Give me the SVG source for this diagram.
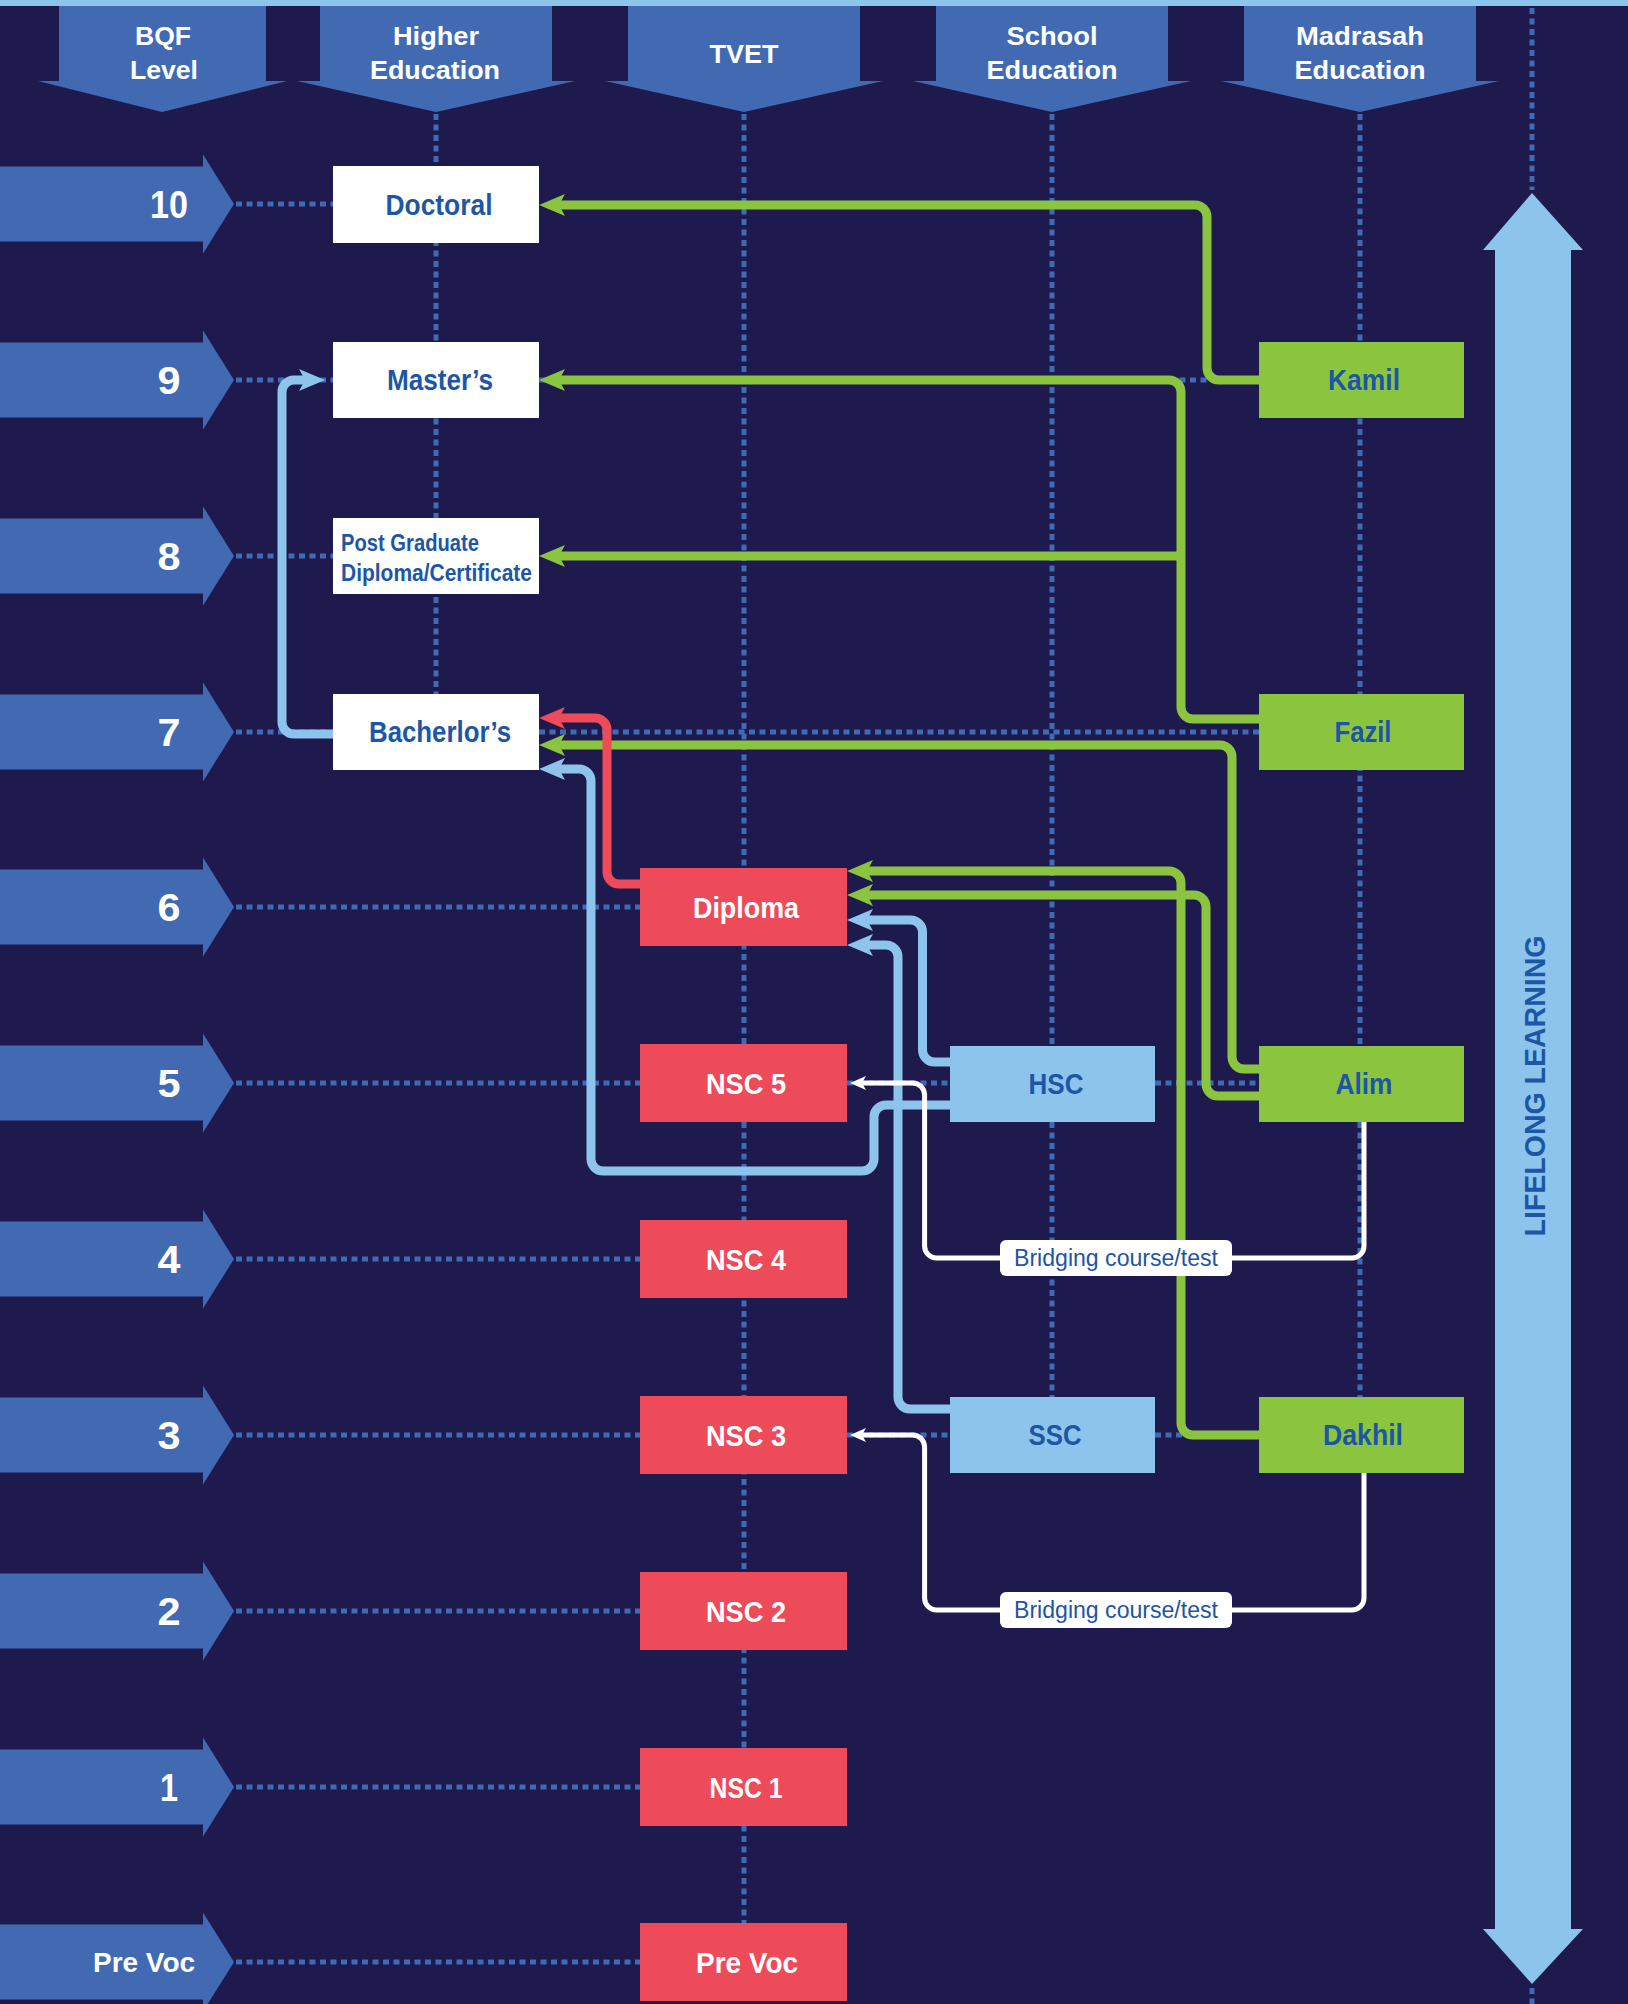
<svg xmlns="http://www.w3.org/2000/svg" width="1628" height="2004" viewBox="0 0 1628 2004">
<style>
.bg{fill:#1E1A4E}
.hdr{fill:#416AB3}
.lvl{fill:#416AB3}
.dot{stroke:#3F6AB4;stroke-width:5;stroke-dasharray:6 4.5;fill:none}
.ht{font-family:"Liberation Sans",Arial,sans-serif;font-weight:bold;font-size:26px;fill:#fff;text-anchor:middle}
.num{font-family:"Liberation Sans",Arial,sans-serif;font-weight:bold;font-size:38px;fill:#fff;text-anchor:middle}
.nt{font-family:"Liberation Sans",Arial,sans-serif;font-weight:bold;font-size:29px;text-anchor:middle}
.blue{fill:#1D56A6}
.wh{fill:#fff}
.wbox{fill:#fff}
.rbox{fill:#EE4B5A}
.sbox{fill:#8DC4EB}
.mbox{fill:#8BC43F}
.g{stroke:#8BC43F;stroke-width:9;fill:none;marker-end:url(#ag)}
.b{stroke:#8DC4EB;stroke-width:9;fill:none;marker-end:url(#ab)}
.r{stroke:#EE4B5A;stroke-width:9;fill:none;marker-end:url(#ar)}
.w{stroke:#fff;stroke-width:5;fill:none;marker-end:url(#aw)}
.lab{font-family:"Liberation Sans",Arial,sans-serif;font-size:23px;fill:#1D56A6;text-anchor:middle}
</style>
<defs>
<marker id="ag" markerUnits="userSpaceOnUse" markerWidth="30" markerHeight="26" viewBox="-28 -13 30 26" refX="-14" refY="0" orient="auto"><path d="M0,0 L-26,-11 L-20,0 L-26,11 Z" fill="#8BC43F"/></marker>
<marker id="ab" markerUnits="userSpaceOnUse" markerWidth="30" markerHeight="26" viewBox="-28 -13 30 26" refX="-14" refY="0" orient="auto"><path d="M0,0 L-26,-11 L-20,0 L-26,11 Z" fill="#8DC4EB"/></marker>
<marker id="ar" markerUnits="userSpaceOnUse" markerWidth="30" markerHeight="26" viewBox="-28 -13 30 26" refX="-14" refY="0" orient="auto"><path d="M0,0 L-26,-11 L-20,0 L-26,11 Z" fill="#EE4B5A"/></marker>
<marker id="aw" markerUnits="userSpaceOnUse" markerWidth="20" markerHeight="18" viewBox="-18 -9 20 18" refX="-8" refY="0" orient="auto"><path d="M0,0 L-16,-7 L-12,0 L-16,7 Z" fill="#fff"/></marker>
</defs>
<rect class="bg" x="0" y="0" width="1628" height="2004"/>

<g id="headers">
<path class="hdr" d="M59,0 H266 V81 H287 L162,112 L38,81 H59 Z"/>
<path class="hdr" d="M320,0 H552 V81 H575 L436,112 L297,81 H320 Z"/>
<path class="hdr" d="M628,0 H860 V81 H883 L744,112 L605,81 H628 Z"/>
<path class="hdr" d="M936,0 H1168 V81 H1191 L1052,112 L913,81 H936 Z"/>
<path class="hdr" d="M1244,0 H1476 V81 H1499 L1360,112 L1221,81 H1244 Z"/>
<text class="ht" x="163" y="45" textLength="56" lengthAdjust="spacingAndGlyphs">BQF</text><text class="ht" x="164" y="79" textLength="68" lengthAdjust="spacingAndGlyphs">Level</text>
<text class="ht" x="436" y="45" textLength="86" lengthAdjust="spacingAndGlyphs">Higher</text><text class="ht" x="435" y="79" textLength="130" lengthAdjust="spacingAndGlyphs">Education</text>
<text class="ht" x="744" y="63" textLength="69" lengthAdjust="spacingAndGlyphs">TVET</text>
<text class="ht" x="1052" y="45" textLength="91" lengthAdjust="spacingAndGlyphs">School</text><text class="ht" x="1052" y="79" textLength="131" lengthAdjust="spacingAndGlyphs">Education</text>
<text class="ht" x="1360" y="45" textLength="128" lengthAdjust="spacingAndGlyphs">Madrasah</text><text class="ht" x="1360" y="79" textLength="131" lengthAdjust="spacingAndGlyphs">Education</text>
</g>
<rect x="0" y="0" width="1628" height="6" fill="#8DC4EB"/>

<g id="levels">
<path class="lvl" d="M0,166.5 H203 V154.5 L234,204 L203,253.5 V241.5 H0 Z"/>
<path class="lvl" d="M0,342.5 H203 V330.5 L234,380 L203,429.5 V417.5 H0 Z"/>
<path class="lvl" d="M0,518.5 H203 V506.5 L234,556 L203,605.5 V593.5 H0 Z"/>
<path class="lvl" d="M0,694.5 H203 V682.5 L234,732 L203,781.5 V769.5 H0 Z"/>
<path class="lvl" d="M0,869.5 H203 V857.5 L234,907 L203,956.5 V944.5 H0 Z"/>
<path class="lvl" d="M0,1045.5 H203 V1033.5 L234,1083 L203,1132.5 V1120.5 H0 Z"/>
<path class="lvl" d="M0,1221.5 H203 V1209.5 L234,1259 L203,1308.5 V1296.5 H0 Z"/>
<path class="lvl" d="M0,1397.5 H203 V1385.5 L234,1435 L203,1484.5 V1472.5 H0 Z"/>
<path class="lvl" d="M0,1573.5 H203 V1561.5 L234,1611 L203,1660.5 V1648.5 H0 Z"/>
<path class="lvl" d="M0,1749.5 H203 V1737.5 L234,1787 L203,1836.5 V1824.5 H0 Z"/>
<path class="lvl" d="M0,1924.5 H203 V1912.5 L234,1962 L203,2011.5 V1999.5 H0 Z"/>
<text class="num" x="169" y="218" textLength="38" lengthAdjust="spacingAndGlyphs">10</text>
<text class="num" x="169" y="394" textLength="23" lengthAdjust="spacingAndGlyphs">9</text>
<text class="num" x="169" y="570" textLength="23" lengthAdjust="spacingAndGlyphs">8</text>
<text class="num" x="169" y="746" textLength="23" lengthAdjust="spacingAndGlyphs">7</text>
<text class="num" x="169" y="921" textLength="23" lengthAdjust="spacingAndGlyphs">6</text>
<text class="num" x="169" y="1097" textLength="23" lengthAdjust="spacingAndGlyphs">5</text>
<text class="num" x="169" y="1273" textLength="23" lengthAdjust="spacingAndGlyphs">4</text>
<text class="num" x="169" y="1449" textLength="23" lengthAdjust="spacingAndGlyphs">3</text>
<text class="num" x="169" y="1625" textLength="23" lengthAdjust="spacingAndGlyphs">2</text>
<text class="num" x="169" y="1801" textLength="18" lengthAdjust="spacingAndGlyphs">1</text>
<text class="ht" x="144" y="1972" style="font-size:28px" textLength="102" lengthAdjust="spacingAndGlyphs">Pre Voc</text>
</g>

<g id="gridlines">
<path class="dot" d="M436,114 V694"/>
<path class="dot" d="M744,114 V1923"/>
<path class="dot" d="M1052,114 V1397"/>
<path class="dot" d="M1360,114 V1397"/>
<path class="dot" d="M1532,8 V190"/>
<path class="dot" d="M1532,1988 V2004"/>
<path class="dot" d="M236,204 H333"/>
<path class="dot" d="M236,380 H333 M539,380 H1259"/>
<path class="dot" d="M236,556 H333"/>
<path class="dot" d="M236,732 H333 M539,732 H1259"/>
<path class="dot" d="M236,907 H640"/>
<path class="dot" d="M236,1083 H640 M847,1083 H950 M1155,1083 H1259"/>
<path class="dot" d="M236,1259 H640"/>
<path class="dot" d="M236,1435 H640 M847,1435 H950 M1155,1435 H1259"/>
<path class="dot" d="M236,1611 H640"/>
<path class="dot" d="M236,1787 H640"/>
<path class="dot" d="M236,1962 H640"/>
</g>

<g id="connectors">
<path class="g" d="M1259,380 H1219 A12,12 0 0 1 1207,368 V217 A12,12 0 0 0 1195,205 H553"/>
<path class="g" d="M1259,719 H1193 A12,12 0 0 1 1181,707 V392 A12,12 0 0 0 1169,380 H553"/>
<path class="g" d="M1181,556 H553"/>
<path class="g" d="M1259,1069 H1244 A12,12 0 0 1 1232,1057 V757 A12,12 0 0 0 1220,745 H553"/>
<path class="g" d="M1259,1096 H1218 A12,12 0 0 1 1206,1084 V907 A12,12 0 0 0 1194,895 H861"/>
<path class="g" d="M1259,1435 H1193 A12,12 0 0 1 1181,1423 V883 A12,12 0 0 0 1169,871 H861"/>
<path class="r" d="M640,884 H619 A12,12 0 0 1 607,872 V730 A12,12 0 0 0 595,718 H553"/>
<path class="b" d="M950,1105 H886 A12,12 0 0 0 874,1117 V1159 A12,12 0 0 1 862,1171 H603 A12,12 0 0 1 591,1159 V781 A12,12 0 0 0 579,769 H553"/>
<path class="b" d="M950,1062 H934.5 A12,12 0 0 1 922.5,1050 V932 A12,12 0 0 0 910.5,920 H861"/>
<path class="b" d="M950,1409 H910 A12,12 0 0 1 898,1397 V957 A12,12 0 0 0 886,945 H861"/>
<path class="b" d="M333,734 H294 A12,12 0 0 1 282,722 V392 A12,12 0 0 1 294,380 H311"/>
<path class="w" d="M1364,1122 V1246 A12,12 0 0 1 1352,1258 H936.6 A12,12 0 0 1 924.6,1246 V1095 A12,12 0 0 0 912.6,1083 H858"/>
<path class="w" d="M1364,1473 V1598 A12,12 0 0 1 1352,1610 H936.6 A12,12 0 0 1 924.6,1598 V1447 A12,12 0 0 0 912.6,1435 H858"/>
<g id="bridge1"><rect x="1000" y="1240" width="232" height="36" rx="6" fill="#fff"/><text class="lab" x="1116" y="1266" textLength="204" lengthAdjust="spacingAndGlyphs">Bridging course/test</text></g>
<g id="bridge2"><rect x="1000" y="1592" width="232" height="36" rx="6" fill="#fff"/><text class="lab" x="1116" y="1618" textLength="204" lengthAdjust="spacingAndGlyphs">Bridging course/test</text></g>
</g>

<g id="doctoral"><rect class="wbox" x="333" y="166" width="206" height="77"/><text class="nt blue" x="439" y="215" textLength="107" lengthAdjust="spacingAndGlyphs">Doctoral</text></g>
<g id="masters"><rect class="wbox" x="333" y="342" width="206" height="76"/><text class="nt blue" x="440" y="390" textLength="106" lengthAdjust="spacingAndGlyphs">Master’s</text></g>
<g id="pgd"><rect class="wbox" x="333" y="518" width="206" height="76"/>
<text class="blue" x="341" y="551" style="font-family:'Liberation Sans',Arial,sans-serif;font-weight:bold;font-size:24px" textLength="138" lengthAdjust="spacingAndGlyphs">Post Graduate</text>
<text class="blue" x="341" y="581" style="font-family:'Liberation Sans',Arial,sans-serif;font-weight:bold;font-size:24px" textLength="191" lengthAdjust="spacingAndGlyphs">Diploma/Certificate</text></g>
<g id="bachelors"><rect class="wbox" x="333" y="694" width="206" height="76"/><text class="nt blue" x="440" y="742" textLength="142" lengthAdjust="spacingAndGlyphs">Bacherlor’s</text></g>

<g id="diploma"><rect class="rbox" x="640" y="868" width="207" height="78"/><text class="nt wh" x="746" y="918" textLength="106" lengthAdjust="spacingAndGlyphs">Diploma</text></g>
<g id="nsc5"><rect class="rbox" x="640" y="1044" width="207" height="78"/><text class="nt wh" x="746" y="1094" textLength="80" lengthAdjust="spacingAndGlyphs">NSC 5</text></g>
<g id="nsc4"><rect class="rbox" x="640" y="1220" width="207" height="78"/><text class="nt wh" x="746" y="1270" textLength="80" lengthAdjust="spacingAndGlyphs">NSC 4</text></g>
<g id="nsc3"><rect class="rbox" x="640" y="1396" width="207" height="78"/><text class="nt wh" x="746" y="1446" textLength="80" lengthAdjust="spacingAndGlyphs">NSC 3</text></g>
<g id="nsc2"><rect class="rbox" x="640" y="1572" width="207" height="78"/><text class="nt wh" x="746" y="1622" textLength="80" lengthAdjust="spacingAndGlyphs">NSC 2</text></g>
<g id="nsc1"><rect class="rbox" x="640" y="1748" width="207" height="78"/><text class="nt wh" x="746" y="1798" textLength="73" lengthAdjust="spacingAndGlyphs">NSC 1</text></g>
<g id="prevoc"><rect class="rbox" x="640" y="1923" width="207" height="78"/><text class="nt wh" x="747" y="1973" textLength="102" lengthAdjust="spacingAndGlyphs">Pre Voc</text></g>

<g id="hsc"><rect class="sbox" x="950" y="1046" width="205" height="76"/><text class="nt blue" x="1056" y="1094" textLength="55" lengthAdjust="spacingAndGlyphs">HSC</text></g>
<g id="ssc"><rect class="sbox" x="950" y="1397" width="205" height="76"/><text class="nt blue" x="1055" y="1445" textLength="53" lengthAdjust="spacingAndGlyphs">SSC</text></g>

<g id="kamil"><rect class="mbox" x="1259" y="342" width="205" height="76"/><text class="nt blue" x="1364" y="390" textLength="72" lengthAdjust="spacingAndGlyphs">Kamil</text></g>
<g id="fazil"><rect class="mbox" x="1259" y="694" width="205" height="76"/><text class="nt blue" x="1363" y="742" textLength="57" lengthAdjust="spacingAndGlyphs">Fazil</text></g>
<g id="alim"><rect class="mbox" x="1259" y="1046" width="205" height="76"/><text class="nt blue" x="1364" y="1094" textLength="57" lengthAdjust="spacingAndGlyphs">Alim</text></g>
<g id="dakhil"><rect class="mbox" x="1259" y="1397" width="205" height="76"/><text class="nt blue" x="1363" y="1445" textLength="80" lengthAdjust="spacingAndGlyphs">Dakhil</text></g>

<g id="lifelong">
<path fill="#8DC4EB" d="M1532,193 L1583,250 L1571,250 L1571,1929 L1583,1929 L1532,1984 L1483,1929 L1495,1929 L1495,250 L1483,250 Z"/>
<text transform="translate(1545,1086) rotate(-90)" x="0" y="0" text-anchor="middle" style="font-family:'Liberation Sans',Arial,sans-serif;font-weight:bold;font-size:30px;fill:#1D56A6" textLength="301" lengthAdjust="spacingAndGlyphs">LIFELONG LEARNING</text>
</g>
</svg>
